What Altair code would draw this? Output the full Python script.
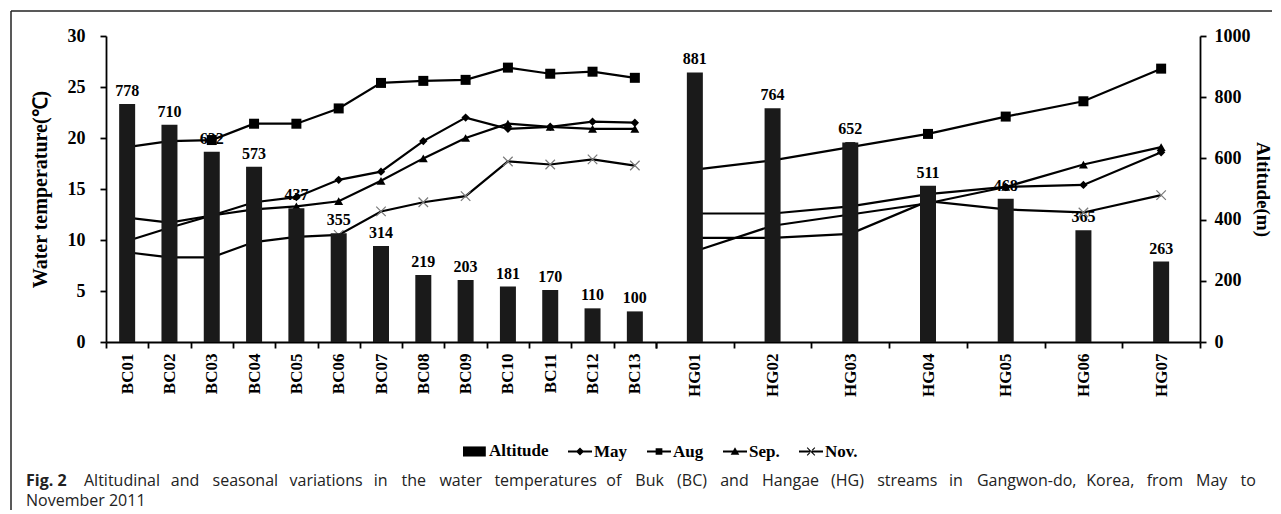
import altair as alt
import pandas as pd

# ---------------- data ----------------
bc_sites = ["BC01", "BC02", "BC03", "BC04", "BC05", "BC06", "BC07",
            "BC08", "BC09", "BC10", "BC11", "BC12", "BC13"]
bc_altitude = [778, 710, 622, 573, 437, 355, 314, 219, 203, 181, 170, 110, 100]
bc_may = [9.9, 11.2, 12.4, 13.7, 14.2, 15.9, 16.7, 19.7, 22.0, 20.9, 21.1, 21.6, 21.5]
bc_aug = [19.1, 19.7, 19.8, 21.4, 21.4, 22.9, 25.4, 25.6, 25.7, 26.9, 26.3, 26.5, 25.9]
bc_sep = [12.2, 11.7, 12.4, 13.0, 13.3, 13.8, 15.8, 18.0, 20.0, 21.4, 21.1, 20.9, 20.9]
bc_nov = [8.8, 8.3, 8.3, 9.8, 10.3, 10.5, 12.8, 13.7, 14.3, 17.7, 17.4, 17.9, 17.3]

hg_sites = ["HG01", "HG02", "HG03", "HG04", "HG05", "HG06", "HG07"]
hg_altitude = [881, 764, 652, 511, 468, 365, 263]
hg_may = [12.6, 12.6, 13.3, 14.5, 15.2, 15.4, 18.6]
hg_aug = [16.9, 17.8, 19.1, 20.4, 22.1, 23.6, 26.8]
hg_sep = [8.9, 11.4, 12.5, 13.6, 15.2, 17.4, 19.1]
hg_nov = [10.2, 10.2, 10.6, 13.8, 13.0, 12.7, 14.4]

months = ["May", "Aug", "Sep.", "Nov."]
legend_items = ["Altitude", "May", "Aug", "Sep.", "Nov."]
temp_ticks = [0, 5, 10, 15, 20, 25, 30]
alt_ticks = [0, 200, 400, 600, 800, 1000]

caption_bold = "Fig. 2"
caption_line1 = ("Altitudinal and seasonal variations in the water temperatures of Buk (BC) "
                 "and Hangae (HG) streams in Gangwon-do, Korea, from May to")
caption_line2 = "November 2011"

SERIF = "Liberation Serif"
SANS = "Open Sans"
BAR = "#1a1a1a"
INK = "#222222"

marker_style = {
    "May": dict(shape="diamond", size=70, filled=True, color="black"),
    "Aug": dict(shape="square", size=100, filled=True, color="black"),
    "Sep.": dict(shape="triangle-up", size=80, filled=True, color="black"),
    "Nov.": dict(shape="M-1,-1L1,1M-1,1L1,-1", size=90, filled=False,
                 color="#7a7a7a", strokeWidth=1.2),
}

# legend symbols drawn as filled outlines (line segment + marker)
LINE = "M-1,-0.08H1V0.08H-1Z"
legend_paths = [
    "M-1,-0.42H0.9V0.42H-1Z",
    LINE + "M0,-0.34L0.34,0L0,0.34L-0.34,0Z",
    LINE + "M-0.28,-0.28H0.28V0.28H-0.28Z",
    LINE + "M0,-0.36L0.36,0.28H-0.36Z",
    LINE + "M-0.29,-0.35L0.35,0.29L0.29,0.35L-0.35,-0.29Z"
           "M-0.29,0.35L0.35,-0.29L0.29,-0.35L-0.35,0.29Z",
]


def long_temps(sites, may, aug, sep, nov):
    rows = []
    for m, vals in zip(months, [may, aug, sep, nov]):
        for s, v in zip(sites, vals):
            rows.append({"site": s, "month": m, "temp": v})
    return pd.DataFrame(rows)


def panel(sites, altitude, temps, side):
    bar_df = pd.DataFrame({"site": sites, "altitude": altitude})
    x = alt.X(
        "site:N", sort=sites,
        scale=alt.Scale(domain=sites, paddingInner=0, paddingOuter=0),
        axis=alt.Axis(title=None, labelAngle=-90, tickBand="extent",
                      labelPadding=5, labelFontSize=17),
    )
    if side == "left":
        temp_axis = alt.Axis(orient="left", values=temp_ticks, title="Water temperature(℃)",
                             labelPadding=15, titlePadding=17, titleFontSize=20,
                             labelFontSize=18)
        alt_axis = None
    else:
        temp_axis = None
        alt_axis = alt.Axis(orient="right", values=alt_ticks, format="d", title="Altitude(m)",
                            labelPadding=8, titlePadding=2, titleFontSize=19,
                            labelFontSize=18)

    y_alt = alt.Y("altitude:Q", scale=alt.Scale(domain=[0, 1000]), axis=alt_axis)
    y_alt_plain = alt.Y("altitude:Q", scale=alt.Scale(domain=[0, 1000]), axis=None)
    y_temp = alt.Y("temp:Q", scale=alt.Scale(domain=[0, 30]), axis=temp_axis)

    bars = alt.Chart(bar_df).mark_bar(size=16, color=BAR).encode(x=x, y=y_alt)
    labels = alt.Chart(bar_df).mark_text(
        baseline="bottom", dy=-5, font=SERIF, fontWeight="bold", fontSize=16, color="black"
    ).encode(x=x, y=y_alt_plain, text="altitude:Q")

    lines = alt.Chart(temps).mark_line(color="black", strokeWidth=2.2).encode(
        x=x, y=y_temp, detail="month:N")
    pts = []
    for m in months:
        st = dict(marker_style[m])
        pts.append(
            alt.Chart(temps).transform_filter(alt.datum.month == m)
            .mark_point(opacity=1, **st)
            .encode(x=x, y=y_temp)
        )
    # drawing order: value labels, temperature lines, then the bars on top
    return labels, alt.layer(lines, *pts), bars


bc_labels, bc_temp, bc_bars = panel(
    bc_sites, bc_altitude, long_temps(bc_sites, bc_may, bc_aug, bc_sep, bc_nov), "left")
hg_labels, hg_temp, hg_bars = panel(
    hg_sites, hg_altitude, long_temps(hg_sites, hg_may, hg_aug, hg_sep, hg_nov), "right")

# legend (empty layer: the explicit domain keeps every entry)
legend_df = pd.DataFrame({"series": legend_items})
legend_layer = alt.Chart(legend_df).transform_filter("false").mark_point(
    filled=True, color="black", opacity=1
).encode(
    shape=alt.Shape(
        "series:N",
        scale=alt.Scale(domain=legend_items, range=legend_paths),
        legend=alt.Legend(
            orient="none", legendX=356, legendY=402, direction="horizontal", title=None,
            labelFont=SERIF, labelFontWeight="bold", labelFontSize=17, labelColor="black",
            symbolSize=576, columnPadding=16, labelOffset=1,
            symbolFillColor="black", symbolOpacity=1,
        ),
    )
)

# ---------------- caption (justified line 1, as in the reference) ----------------
W = {" ": 532, ",": 502, "-": 659, ".": 545, "(": 608, ")": 608,
     "A": 1296, "B": 1327, "C": 1292, "G": 1511, "H": 1520, "K": 1298, "M": 1849,
     "a": 1139, "b": 1255, "c": 975, "d": 1255, "e": 1149, "f": 694, "g": 1122,
     "h": 1257, "i": 518, "k": 1075, "l": 518, "m": 1905, "n": 1257, "o": 1237,
     "p": 1255, "r": 836, "s": 977, "t": 723, "u": 1257, "v": 1026, "w": 1593, "y": 1028}
CAP_SIZE = 16
SHRINK = 0.95   # measured glyph advance vs. the table


def text_width(s):
    return SHRINK * sum(W.get(ch, 1150) for ch in s) / 2048 * CAP_SIZE


words = caption_line1.split(" ")
line_start, line_end = -22, 1149          # relative to left panel origin
natural = sum(text_width(w) for w in words)
gap = (line_end - line_start - natural) / (len(words) - 1)
cap_layers = []
xpos = line_start
for w in words:
    cap_layers.append(
        alt.Chart(pd.DataFrame({"k": [0]})).mark_text(
            text=w, font=SANS, fontSize=CAP_SIZE, align="left", baseline="alphabetic",
            color=INK
        ).encode(x=alt.value(round(xpos, 1)), y=alt.value(450))
    )
    xpos += text_width(w) + gap

one = pd.DataFrame({"k": [0]})
cap_bold = alt.Chart(one).mark_text(
    text=caption_bold, font=SANS, fontWeight="bold", fontSize=CAP_SIZE, align="left",
    baseline="alphabetic", color=INK
).encode(x=alt.value(-80), y=alt.value(450))
cap_l2 = alt.Chart(one).mark_text(
    text=caption_line2, font=SANS, fontSize=CAP_SIZE, align="left",
    baseline="alphabetic", color=INK
).encode(x=alt.value(-80), y=alt.value(470))

# frame (top and left edges of the figure box)
frame_top = alt.Chart(one).mark_rule(color=INK, strokeWidth=1.5).encode(
    x=alt.value(-95), x2=alt.value(1166), y=alt.value(-25))
frame_left = alt.Chart(one).mark_rule(color=INK, strokeWidth=1.5).encode(
    x=alt.value(-95), y=alt.value(-25), y2=alt.value(474))

bc = alt.layer(
    bc_labels, alt.layer(bc_temp, legend_layer), bc_bars,
    cap_bold, *cap_layers, cap_l2, frame_top, frame_left
).resolve_scale(y="independent").properties(width=550, height=306)

hg = alt.layer(hg_labels, hg_temp, hg_bars).resolve_scale(y="independent").properties(
    width=544, height=306)

chart = alt.hconcat(bc, hg, spacing=0, bounds="flush").resolve_legend(
    shape="independent"
).properties(
    padding={"left": 2, "top": 2, "right": 0, "bottom": 0}
).configure_view(stroke=None).configure_axis(
    domainColor="black", domainWidth=1.8, tickColor="black", tickWidth=1.8, tickSize=6,
    labelFont=SERIF, labelFontWeight="bold", labelFontSize=17, labelColor="black",
    titleFont=SERIF, titleFontWeight="bold", titleColor="black", grid=False,
)

chart.save("out.html", embed_options={"renderer": "svg", "actions": False})
